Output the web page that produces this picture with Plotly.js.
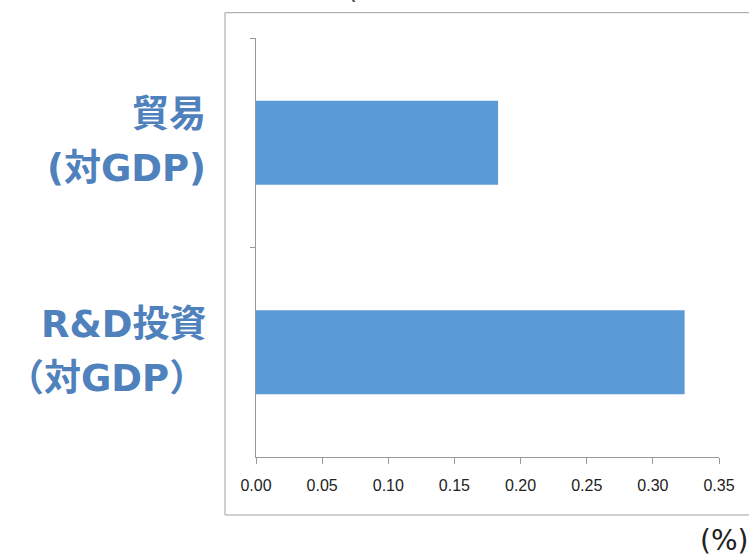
<!DOCTYPE html>
<html>
<head>
<meta charset="utf-8">
<script src="https://cdn.plot.ly/plotly-3.0.1.min.js"></script>
<style>html,body{margin:0;padding:0;background:#fff;}#chart{width:749px;height:558px;}</style>
</head>
<body>
<div id="chart"></div>
<script>
const categories = ["trade", "rnd"];
const labelLine1 = ["貿易", "R&D投資"];
const labelLine2 = ["(対GDP)", "（対GDP）"];
const values = [0.183, 0.324];
const xTicks = [0, 0.05, 0.10, 0.15, 0.20, 0.25, 0.30, 0.35];
const unitLabel = "(%)";

const labelColor = "#4F81BD";
const labelFont = {family: "DejaVu Sans, Noto Sans CJK JP, sans-serif", size: 37, color: labelColor, weight: 700};

const annotations = [];
categories.forEach((c, i) => {
  annotations.push({xref: "paper", yref: "y", x: -0.104, y: c, xanchor: "right", yanchor: "middle",
    text: "<b>" + labelLine1[i] + "</b>", showarrow: false, font: labelFont, yshift: 28});
  annotations.push({xref: "paper", yref: "y", x: -0.104, y: c, xanchor: "right", yanchor: "middle",
    text: "<b>" + labelLine2[i] + "</b>", showarrow: false, font: labelFont, yshift: -26});
});
annotations.push({xref: "paper", yref: "paper", x: 1.066, y: -0.2, xanchor: "right", yanchor: "middle",
  text: unitLabel, showarrow: false, font: {family: "DejaVu Sans, Noto Sans CJK JP, sans-serif", size: 28, color: "#222"}});
annotations.push({xref: "paper", yref: "paper", x: 0.207, y: 1.074, xanchor: "center", yanchor: "bottom",
  text: "(", showarrow: false, font: {family: "DejaVu Sans, sans-serif", size: 30, color: "#595959"}});

const trace = {
  type: "bar", orientation: "h",
  y: categories, x: values,
  width: 0.4,
  marker: {color: "#5B9BD5", line: {width: 0}},
  hoverinfo: "skip"
};

const layout = {
  width: 749, height: 558,
  margin: {l: 256, r: 30, t: 38, b: 101, pad: 0},
  paper_bgcolor: "#fff", plot_bgcolor: "#fff",
  showlegend: false,
  xaxis: {
    range: [0, 0.35], tickvals: xTicks, tickformat: ".2f",
    showgrid: false, zeroline: false,
    showline: true, linecolor: "#9a9a9a", linewidth: 1,
    ticks: "outside", ticklen: 6, tickcolor: "#9a9a9a",
    ticklabelstandoff: 8,
    tickfont: {family: "Liberation Sans Narrow, Liberation Sans, sans-serif", size: 16, color: "#222"}
  },
  yaxis: {
    type: "category", categoryorder: "array", categoryarray: categories,
    range: [1.5, -0.5],
    showticklabels: false, showgrid: false, zeroline: false,
    showline: true, linecolor: "#9a9a9a", linewidth: 1,
    ticks: "outside", ticklen: 5, tickcolor: "#9a9a9a", tickson: "boundaries"
  },
  shapes: [{type: "rect", xref: "paper", yref: "paper", x0: -0.067, x1: 1.09, y0: -0.1384, y1: 1.0604,
    line: {color: "#a0a0a0", width: 1}, fillcolor: "rgba(0,0,0,0)", layer: "below"}],
  annotations: annotations
};

Plotly.newPlot("chart", [trace], layout, {displayModeBar: false, staticPlot: true});
</script>
</body>
</html>
